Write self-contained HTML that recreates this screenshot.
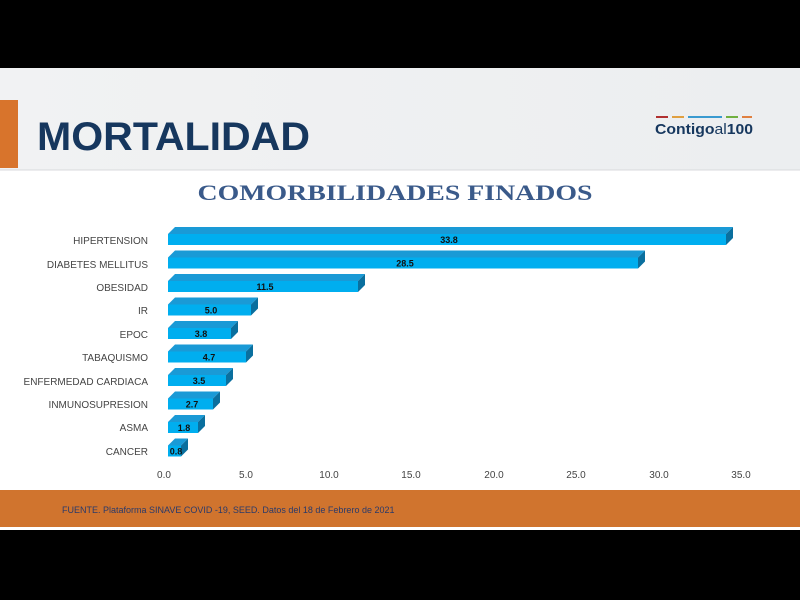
<!DOCTYPE html>
<html><head><meta charset="utf-8"><style>
body{margin:0;background:#000;width:800px;height:600px;overflow:hidden;font-family:"Liberation Sans",sans-serif}
svg{display:block}
</style></head><body>
<svg width="800" height="600" xmlns="http://www.w3.org/2000/svg">
<defs><linearGradient id="hg" x1="0" x2="1"><stop offset="0" stop-color="#f1f2f3"/><stop offset="1" stop-color="#eceef0"/></linearGradient></defs>
<rect x="0" y="68" width="800" height="462" fill="#ffffff"/>
<rect x="0" y="68" width="800" height="102" fill="url(#hg)"/>
<line x1="0" y1="170" x2="800" y2="170" stroke="#d8dadc"/>
<rect x="0" y="100" width="18" height="68" fill="#d8742c"/>
<text x="37" y="150" font-size="40" font-weight="bold" fill="#16375e" textLength="273" lengthAdjust="spacingAndGlyphs">MORTALIDAD</text>
<rect x="656" y="116" width="12" height="2" fill="#b03030"/><rect x="672" y="116" width="12" height="2" fill="#e0a040"/><rect x="688" y="116" width="34" height="2" fill="#3a9ad0"/><rect x="726" y="116" width="12" height="2" fill="#70b040"/><rect x="742" y="116" width="10" height="2" fill="#e08040"/>
<text x="655" y="134" font-size="15" font-weight="bold" fill="#16375e" textLength="98" lengthAdjust="spacingAndGlyphs">Contigo<tspan font-weight="normal">al</tspan>100</text>
<text x="395" y="200" font-family="Liberation Serif,serif" font-size="22" font-weight="bold" fill="#3a5a8a" text-anchor="middle" textLength="395" lengthAdjust="spacingAndGlyphs">COMORBILIDADES FINADOS</text>
<g font-size="10" fill="#444" text-anchor="end">
<text x="148" y="244">HIPERTENSION</text><text x="148" y="268">DIABETES MELLITUS</text><text x="148" y="291">OBESIDAD</text><text x="148" y="314">IR</text><text x="148" y="338">EPOC</text><text x="148" y="361">TABAQUISMO</text><text x="148" y="385">ENFERMEDAD CARDIACA</text><text x="148" y="408">INMUNOSUPRESION</text><text x="148" y="431">ASMA</text><text x="148" y="455">CANCER</text>
</g>
<g font-size="9" font-weight="bold" fill="#111" text-anchor="middle">
<g transform="translate(0,227)"><polygon points="168,7 175,0 733,0 726,7" fill="#1a9ad6"/><polygon points="726,7 733,0 733,11 726,18" fill="#0a6f9e"/><rect x="168" y="7" width="558" height="11" fill="#00aeef"/><text x="449" y="16">33.8</text></g>
<g transform="translate(0,250.5)"><polygon points="168,7 175,0 645,0 638,7" fill="#1a9ad6"/><polygon points="638,7 645,0 645,11 638,18" fill="#0a6f9e"/><rect x="168" y="7" width="470" height="11" fill="#00aeef"/><text x="405" y="16">28.5</text></g>
<g transform="translate(0,274)"><polygon points="168,7 175,0 365,0 358,7" fill="#1a9ad6"/><polygon points="358,7 365,0 365,11 358,18" fill="#0a6f9e"/><rect x="168" y="7" width="190" height="11" fill="#00aeef"/><text x="265" y="16">11.5</text></g>
<g transform="translate(0,297.5)"><polygon points="168,7 175,0 258,0 251,7" fill="#1a9ad6"/><polygon points="251,7 258,0 258,11 251,18" fill="#0a6f9e"/><rect x="168" y="7" width="83" height="11" fill="#00aeef"/><text x="211" y="16">5.0</text></g>
<g transform="translate(0,321)"><polygon points="168,7 175,0 238,0 231,7" fill="#1a9ad6"/><polygon points="231,7 238,0 238,11 231,18" fill="#0a6f9e"/><rect x="168" y="7" width="63" height="11" fill="#00aeef"/><text x="201" y="16">3.8</text></g>
<g transform="translate(0,344.5)"><polygon points="168,7 175,0 253,0 246,7" fill="#1a9ad6"/><polygon points="246,7 253,0 253,11 246,18" fill="#0a6f9e"/><rect x="168" y="7" width="78" height="11" fill="#00aeef"/><text x="209" y="16">4.7</text></g>
<g transform="translate(0,368)"><polygon points="168,7 175,0 233,0 226,7" fill="#1a9ad6"/><polygon points="226,7 233,0 233,11 226,18" fill="#0a6f9e"/><rect x="168" y="7" width="58" height="11" fill="#00aeef"/><text x="199" y="16">3.5</text></g>
<g transform="translate(0,391.5)"><polygon points="168,7 175,0 220,0 213,7" fill="#1a9ad6"/><polygon points="213,7 220,0 220,11 213,18" fill="#0a6f9e"/><rect x="168" y="7" width="45" height="11" fill="#00aeef"/><text x="192" y="16">2.7</text></g>
<g transform="translate(0,415)"><polygon points="168,7 175,0 205,0 198,7" fill="#1a9ad6"/><polygon points="198,7 205,0 205,11 198,18" fill="#0a6f9e"/><rect x="168" y="7" width="30" height="11" fill="#00aeef"/><text x="184" y="16">1.8</text></g>
<g transform="translate(0,438.5)"><polygon points="168,7 175,0 188,0 181,7" fill="#1a9ad6"/><polygon points="181,7 188,0 188,11 181,18" fill="#0a6f9e"/><rect x="168" y="7" width="13" height="11" fill="#00aeef"/><text x="176" y="16">0.8</text></g>
</g>
<g font-size="10" fill="#444" text-anchor="middle">
<text x="164" y="478">0.0</text><text x="246" y="478">5.0</text><text x="329" y="478">10.0</text><text x="411" y="478">15.0</text><text x="494" y="478">20.0</text><text x="576" y="478">25.0</text><text x="659" y="478">30.0</text><text x="741" y="478">35.0</text>
</g>
<rect x="0" y="490" width="800" height="37" fill="#d0742e"/>
<text x="62" y="513" font-size="9" fill="#2a3a6a">FUENTE. Plataforma SINAVE COVID -19, SEED. Datos del 18 de Febrero de 2021</text>
</svg>
</body></html>
